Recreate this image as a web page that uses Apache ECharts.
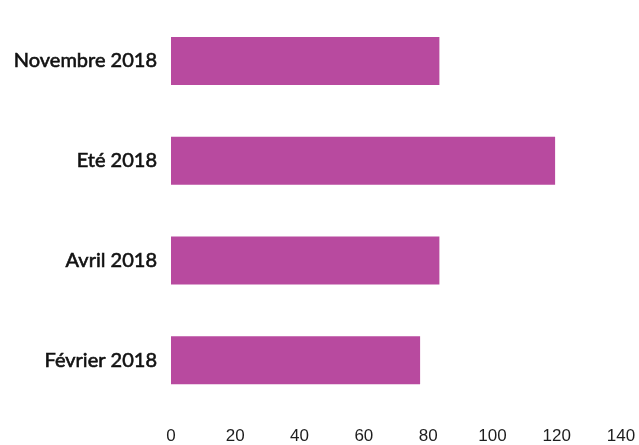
<!DOCTYPE html>
<html><head><meta charset="utf-8">
<script src="https://cdn.jsdelivr.net/npm/echarts@6/dist/echarts.min.js"></script>
<style>html,body{margin:0;padding:0;background:#fff}#c{width:639px;height:445px}</style>
</head><body><div id="c"></div>
<script>
const categories = ["Février 2018", "Avril 2018", "Eté 2018", "Novembre 2018"];
const values = [77.5, 83.5, 119.5, 83.5];
const xTicks = [0, 20, 40, 60, 80, 100, 120, 140];

const chart = echarts.init(document.getElementById('c'));
chart.setOption({
  animation: false,
  backgroundColor: '#fff',
  grid: { left: 171, right: 18, top: 11, bottom: 35 },
  xAxis: {
    type: 'value', min: xTicks[0], max: xTicks[xTicks.length - 1], interval: 20,
    axisLine: { show: false }, axisTick: { show: false }, splitLine: { show: false },
    axisLabel: { margin: 18, fontSize: 17, color: '#1e1e1e', fontFamily: 'Liberation Sans, Arial, sans-serif' }
  },
  yAxis: {
    type: 'category', data: categories,
    axisLine: { show: false }, axisTick: { show: false },
    axisLabel: { margin: 14, fontSize: 20, fontWeight: 'normal', color: '#111', fontFamily: 'Lato',
      textBorderColor: '#111', textBorderWidth: 0.6 }
  },
  series: [{
    type: 'bar', data: values, barWidth: 48,
    itemStyle: { color: '#b84a9f' }
  }]
});
</script></body></html>
